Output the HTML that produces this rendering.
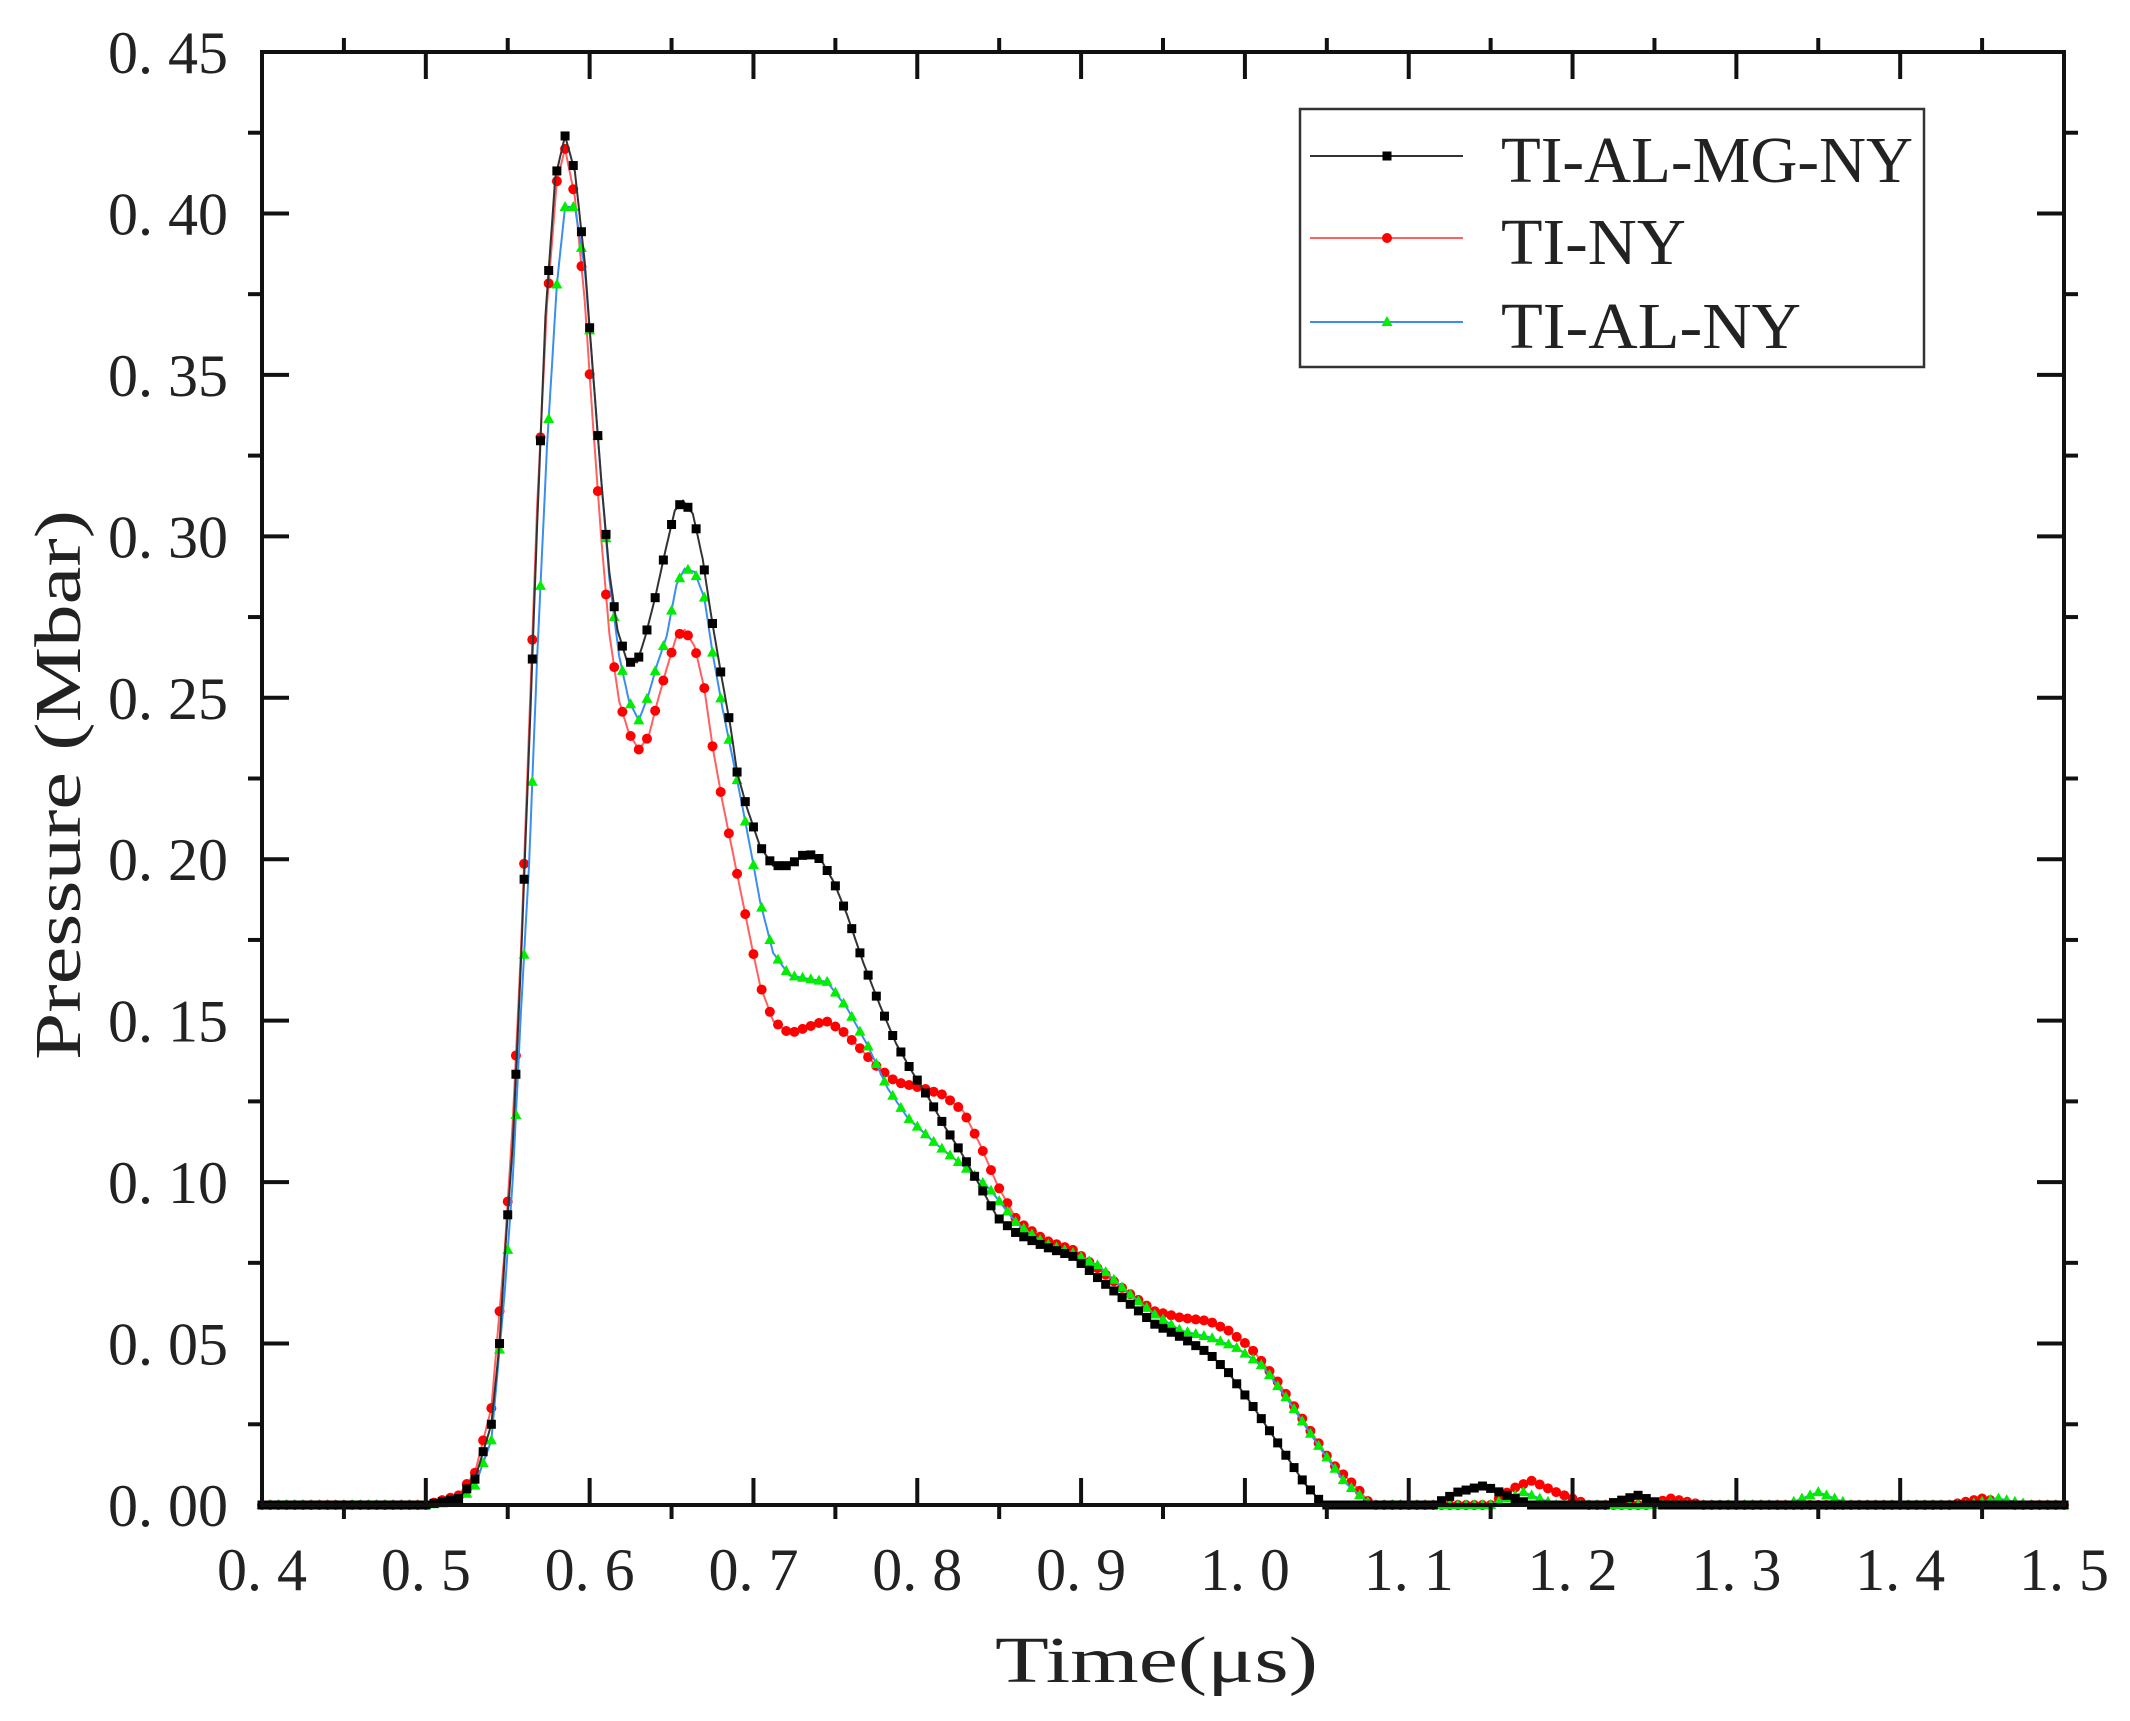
<!DOCTYPE html>
<html><head><meta charset="utf-8"><style>
html,body{margin:0;padding:0;background:#fff;}
svg text{font-family:"Liberation Serif","Noto Serif CJK SC",serif;fill:#222;}
</style></head><body>
<svg id="s" width="2130" height="1716" xmlns="http://www.w3.org/2000/svg"></svg>
<script>
const S=document.getElementById('s');
const X0=262,X1=2064,Y0=1505,Y1=52;
const px=x=>X0+(x-0.4)/1.1*(X1-X0);
const py=y=>Y0-y/0.45*(Y0-Y1);
let h='';
const blk=[[0.4,0],[0.5,0],[0.52,0.002],[0.53,0.008],[0.54,0.025],[0.545,0.05],[0.548,0.0758],[0.553,0.111],[0.558,0.167],[0.563,0.234],[0.568,0.304],[0.573,0.368],[0.579,0.411],[0.585,0.424],[0.591,0.413],[0.597,0.385],[0.602,0.351],[0.607,0.318],[0.612,0.289],[0.617,0.271],[0.623,0.261],[0.629,0.261],[0.634,0.269],[0.640,0.281],[0.646,0.295],[0.652,0.308],[0.657,0.311],[0.663,0.307],[0.669,0.293],[0.674,0.276],[0.680,0.258],[0.686,0.241],[0.690,0.227],[0.696,0.216],[0.704,0.204],[0.712,0.198],[0.722,0.198],[0.732,0.202],[0.741,0.200],[0.749,0.193],[0.757,0.183],[0.767,0.168],[0.777,0.155],[0.787,0.143],[0.797,0.134],[0.807,0.126],[0.817,0.117],[0.827,0.109],[0.837,0.100],[0.849,0.089],[0.861,0.084],[0.878,0.080],[0.895,0.077],[0.911,0.070],[0.928,0.063],[0.945,0.056],[0.961,0.052],[0.978,0.047],[0.990,0.041],[1.003,0.032],[1.019,0.020],[1.036,0.007],[1.048,0],[1.115,0],[1.13,0.004],[1.146,0.006],[1.16,0.003],[1.175,0],[1.22,0],[1.24,0.003],[1.255,0],[1.5,0]];
const red=[[0.4,0],[0.5,0],[0.52,0.003],[0.53,0.01],[0.54,0.03],[0.548,0.078],[0.553,0.118],[0.558,0.171],[0.563,0.24],[0.568,0.31],[0.574,0.372],[0.580,0.410],[0.585,0.420],[0.591,0.405],[0.597,0.373],[0.602,0.335],[0.607,0.300],[0.612,0.270],[0.618,0.249],[0.624,0.239],[0.630,0.234],[0.636,0.238],[0.641,0.248],[0.647,0.259],[0.653,0.269],[0.658,0.271],[0.664,0.266],[0.670,0.253],[0.675,0.235],[0.681,0.218],[0.687,0.203],[0.693,0.188],[0.699,0.173],[0.704,0.161],[0.712,0.150],[0.722,0.146],[0.733,0.148],[0.744,0.150],[0.754,0.147],[0.764,0.142],[0.775,0.136],[0.787,0.131],[0.804,0.129],[0.816,0.127],[0.828,0.122],[0.838,0.112],[0.849,0.099],[0.861,0.088],[0.878,0.082],[0.895,0.079],[0.911,0.073],[0.928,0.066],[0.945,0.060],[0.961,0.058],[0.978,0.057],[0.990,0.054],[1.003,0.049],[1.019,0.039],[1.036,0.026],[1.053,0.013],[1.069,0.005],[1.077,0],[1.15,0],[1.163,0.005],[1.175,0.0075],[1.19,0.004],[1.21,0],[1.245,0],[1.26,0.002],[1.28,0],[1.43,0],[1.45,0.002],[1.47,0],[1.5,0]];
const grn=[[0.4,0],[0.5,0],[0.52,0.001],[0.53,0.006],[0.54,0.02],[0.548,0.065],[0.553,0.1],[0.558,0.152],[0.563,0.198],[0.568,0.263],[0.574,0.328],[0.580,0.378],[0.585,0.402],[0.591,0.402],[0.597,0.383],[0.602,0.351],[0.607,0.318],[0.612,0.287],[0.618,0.263],[0.624,0.249],[0.630,0.243],[0.636,0.251],[0.641,0.260],[0.647,0.269],[0.653,0.285],[0.658,0.290],[0.664,0.289],[0.670,0.281],[0.675,0.264],[0.681,0.247],[0.687,0.232],[0.693,0.217],[0.699,0.201],[0.704,0.187],[0.712,0.171],[0.722,0.164],[0.733,0.163],[0.745,0.162],[0.757,0.154],[0.770,0.142],[0.782,0.129],[0.794,0.120],[0.811,0.112],[0.828,0.105],[0.844,0.098],[0.861,0.087],[0.878,0.081],[0.895,0.078],[0.911,0.074],[0.928,0.066],[0.945,0.059],[0.961,0.054],[0.978,0.052],[0.994,0.049],[1.011,0.043],[1.027,0.032],[1.044,0.019],[1.061,0.007],[1.077,0],[1.15,0],[1.17,0.004],[1.19,0],[1.33,0],[1.35,0.004],[1.37,0],[1.44,0],[1.46,0.002],[1.48,0],[1.5,0]];
function lin(d,x){for(let i=1;i<d.length;i++){if(x<=d[i][0]){const a=d[i-1],b=d[i];const t=(x-a[0])/(b[0]-a[0]);return a[1]+t*(b[1]-a[1]);}}return 0;}
function series(d,lc,mc,type){
  let p='';const pts=[];
  for(let x=0.4;x<=1.5001;x+=0.001){pts.push([px(x),py(lin(d,x))]);}
  p='M'+pts.map(q=>q[0].toFixed(1)+','+q[1].toFixed(1)).join('L');
  h+=`<path d="${p}" fill="none" stroke="${lc}" stroke-width="2"/>`;
  for(let k=0;k<=220;k++){const x=0.4+k*0.005;const X=px(x),Y=py(lin(d,x));
    if(type==0)h+=`<rect x="${X-4.5}" y="${Y-4.5}" width="9" height="9" fill="${mc}"/>`;
    else if(type==1)h+=`<circle cx="${X}" cy="${Y}" r="5" fill="${mc}"/>`;
    else h+=`<polygon points="${X},${Y-6} ${X-5.5},${Y+4} ${X+5.5},${Y+4}" fill="${mc}"/>`;}
}
series(red,'#ff6060','#ff0000',1);
series(grn,'#3a8ef0','#00ee00',2);
series(blk,'#333','#000',0);
// reorder: black drawn last; fine
// axes
h+=`<rect x="${X0}" y="${Y1}" width="${X1-X0}" height="${Y0-Y1}" fill="none" stroke="#111" stroke-width="4"/>`;
for(let i=0;i<=11;i++){const X=px(0.4+i*0.1);
  h+=`<line x1="${X}" y1="${Y0}" x2="${X}" y2="${Y0-27}" stroke="#111" stroke-width="4"/><line x1="${X}" y1="${Y1}" x2="${X}" y2="${Y1+27}" stroke="#111" stroke-width="4"/>`;
  if(i<11){const Xm=px(0.45+i*0.1);h+=`<line x1="${Xm}" y1="${Y0}" x2="${Xm}" y2="${Y0+14}" stroke="#111" stroke-width="4"/><line x1="${Xm}" y1="${Y1}" x2="${Xm}" y2="${Y1-14}" stroke="#111" stroke-width="4"/>`;}
  const lab=(0.4+i*0.1).toFixed(1).replace('.','. ');
  h+=`<text x="${X}" y="1590" font-size="60" text-anchor="middle">${lab}</text>`;}
for(let i=0;i<=9;i++){const Y=py(i*0.05);
  h+=`<line x1="${X0}" y1="${Y}" x2="${X0+27}" y2="${Y}" stroke="#111" stroke-width="4"/><line x1="${X1}" y1="${Y}" x2="${X1-27}" y2="${Y}" stroke="#111" stroke-width="4"/>`;
  if(i<9){const Ym=py(0.025+i*0.05);h+=`<line x1="${X0}" y1="${Ym}" x2="${X0-14}" y2="${Ym}" stroke="#111" stroke-width="4"/><line x1="${X1}" y1="${Ym}" x2="${X1+14}" y2="${Ym}" stroke="#111" stroke-width="4"/>`;}
  const lab=(i*0.05).toFixed(2).replace('.','. ');
  h+=`<text x="228" y="${Y+21}" font-size="60" text-anchor="end">${lab}</text>`;}
h+=`<text x="995" y="1682" font-size="66" textLength="323" lengthAdjust="spacingAndGlyphs">Time(μs)</text>`;
h+=`<text transform="translate(80,1060) rotate(-90)" x="0" y="0" font-size="66" textLength="550" lengthAdjust="spacingAndGlyphs">Pressure (Mbar)</text>`;
// legend
h+=`<rect x="1300" y="109" width="624" height="258" fill="#fff" stroke="#333" stroke-width="2.5"/>`;
const L=[['TI-AL-MG-NY','#333','#000',0,156,412],['TI-NY','#ff6060','#ff0000',1,238,185],['TI-AL-NY','#3a8ef0','#00ee00',2,322,300]];
for(const l of L){h+=`<line x1="1310" y1="${l[4]}" x2="1463" y2="${l[4]}" stroke="${l[1]}" stroke-width="2"/>`;
  const X=1387,Y=l[4];
  if(l[3]==0)h+=`<rect x="${X-4.5}" y="${Y-4.5}" width="9" height="9" fill="${l[2]}"/>`;
  else if(l[3]==1)h+=`<circle cx="${X}" cy="${Y}" r="5" fill="${l[2]}"/>`;
  else h+=`<polygon points="${X},${Y-6} ${X-5.5},${Y+4} ${X+5.5},${Y+4}" fill="${l[2]}"/>`;
  h+=`<text x="1501" y="${Y+26}" font-size="66" textLength="${l[5]}" lengthAdjust="spacingAndGlyphs">${l[0]}</text>`;}
S.innerHTML=h;
</script>
</body></html>
